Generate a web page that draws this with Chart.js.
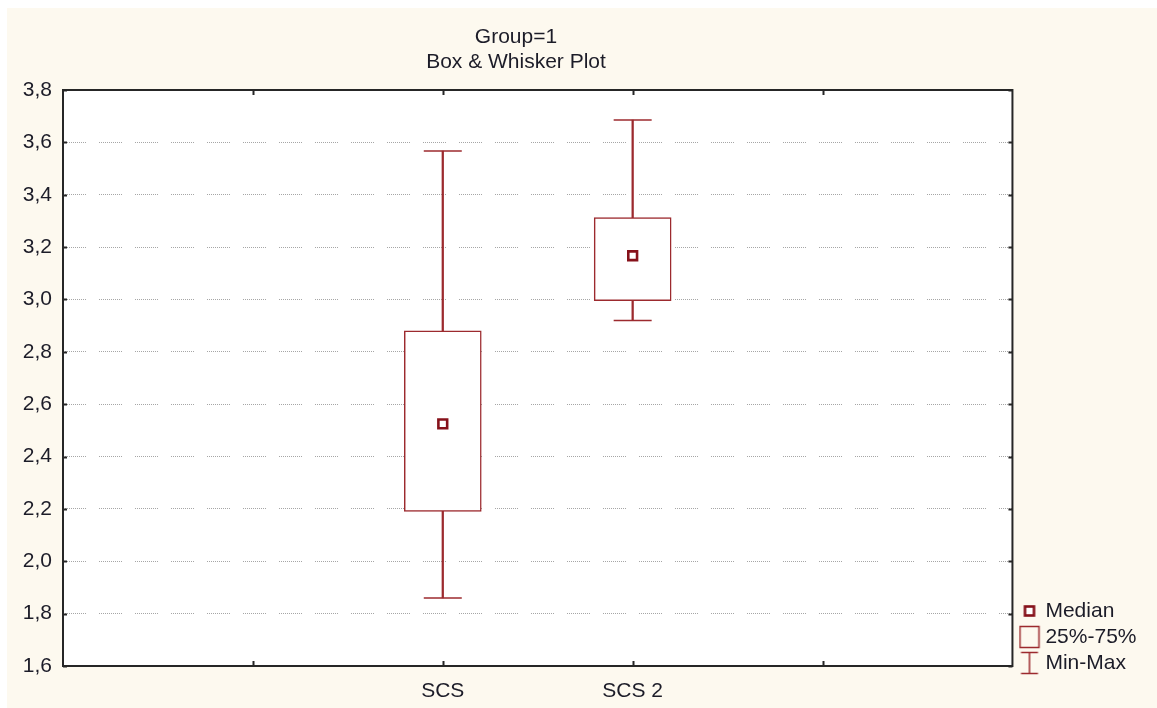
<!DOCTYPE html>
<html>
<head>
<meta charset="utf-8">
<script src="https://cdn.jsdelivr.net/npm/chart.js@4/dist/chart.umd.min.js"></script>
<style>
  html, body { margin: 0; padding: 0; background: #ffffff; }
  #wrap { position: absolute; left: 7px; top: 8px; width: 1150px; height: 700px; background: #fdf9ef; }
</style>
</head>
<body>
<div id="wrap"><canvas id="chart" width="1150" height="700"></canvas></div>
<script>
// valeurs
const categories = ['SCS', 'SCS 2'];
const minValues = [1.86, 2.92];
const q1Values = [2.19, 2.995];
const medianValues = [2.525, 3.167];
const q3Values = [2.88, 3.313];
const maxValues = [3.567, 3.685];
const titleLines = ['Group=1', 'Box & Whisker Plot'];
const legendLabels = ['Median', '25%-75%', 'Min-Max'];

const red = '#9c2a2e';
const darkRed = '#86111a';
const textColor = '#1c1c28';
const font = { family: '"Liberation Sans", Arial, sans-serif', size: 21 };

// les catégories sont posées sur les graduations 2 et 3 d'un axe de 0 à 5
const slot = i => i + 2;

const whiskerData = categories.map((c, i) => ({ x: slot(i), y: [minValues[i], maxValues[i]] }));
const boxData = categories.map((c, i) => ({ x: slot(i), y: [q1Values[i], q3Values[i]] }));
const capData = categories.flatMap((c, i) => [
    { x: slot(i), y: minValues[i] },
    { x: slot(i), y: maxValues[i] }
]);
const medianData = categories.map((c, i) => ({ x: slot(i), y: medianValues[i] }));

// petites icônes pour la légende
function makeIcon(draw) {
    const c = document.createElement('canvas');
    c.width = 24;
    c.height = 26;
    draw(c.getContext('2d'));
    return c;
}
const legendIcons = [
    makeIcon(ctx => {
        ctx.fillStyle = '#ffffff';
        ctx.fillRect(7.5, 8.5, 9, 9);
        ctx.strokeStyle = darkRed;
        ctx.lineWidth = 2.6;
        ctx.strokeRect(7.5, 8.5, 9, 9);
    }),
    makeIcon(ctx => {
        ctx.strokeStyle = red;
        ctx.lineWidth = 1.5;
        ctx.strokeRect(2.5, 2.5, 19, 21);
    }),
    makeIcon(ctx => {
        ctx.strokeStyle = red;
        ctx.lineWidth = 1.5;
        ctx.beginPath();
        ctx.moveTo(3.5, 2.5); ctx.lineTo(20.5, 2.5);
        ctx.moveTo(12, 2.5); ctx.lineTo(12, 23.5);
        ctx.moveTo(3.5, 23.5); ctx.lineTo(20.5, 23.5);
        ctx.stroke();
    })
];

const gridDash = [];
for (let i = 0; i < 11; i++) gridDash.push(1, 1);
gridDash.push(1, 13);

const plotBackground = {
    id: 'plotBackground',
    beforeDraw(chart) {
        const { ctx, chartArea: a } = chart;
        ctx.save();
        ctx.fillStyle = '#ffffff';
        ctx.fillRect(a.left, a.top, a.right - a.left, a.bottom - a.top);
        ctx.restore();
    }
};

// cadre et graduations intérieures
const frame = {
    id: 'frame',
    afterDraw(chart) {
        const { ctx, chartArea: a, scales: { x, y } } = chart;
        ctx.save();
        ctx.strokeStyle = '#262626';
        ctx.lineWidth = 2;
        ctx.strokeRect(a.left, a.top, a.right - a.left, a.bottom - a.top);
        ctx.beginPath();
        x.ticks.forEach(t => {
            if (t.value <= x.min || t.value >= x.max) return;
            const px = Math.round(x.getPixelForValue(t.value)) + 0.5;
            ctx.moveTo(px, a.bottom); ctx.lineTo(px, a.bottom - 5);
            ctx.moveTo(px, a.top); ctx.lineTo(px, a.top + 5);
        });
        y.ticks.forEach(t => {
            const py = Math.round(y.getPixelForValue(t.value)) + 0.5;
            ctx.moveTo(a.left, py); ctx.lineTo(a.left + 4, py);
            ctx.moveTo(a.right, py); ctx.lineTo(a.right - 4, py);
        });
        ctx.stroke();
        ctx.restore();
    }
};

// le titre n'est pas centré sur la toile et la légende descend sous le cadre
const placeBlocks = {
    id: 'placeBlocks',
    afterLayout(chart) {
        const tb = chart.titleBlock;
        const d = 509 - (tb.left + tb.right) / 2;
        tb.left += d;
        tb.right += d;
        chart.legend.top -= 29.5;
        chart.legend.bottom -= 29.5;
    }
};

new Chart(document.getElementById('chart'), {
    type: 'bar',
    data: {
        datasets: [
            {
                label: 'Median',
                type: 'scatter',
                data: medianData,
                pointStyle: 'rect',
                pointRadius: 6.2,
                pointHoverRadius: 6.2,
                pointBorderWidth: 2.6,
                pointBorderColor: darkRed,
                pointBackgroundColor: '#ffffff',
                order: 0
            },
            {
                label: '25%-75%',
                data: boxData,
                backgroundColor: '#ffffff',
                borderColor: red,
                borderWidth: 1.5,
                borderSkipped: false,
                barThickness: 77,
                grouped: false,
                order: 1
            },
            {
                label: 'caps',
                type: 'scatter',
                data: capData,
                pointStyle: 'line',
                pointRadius: 19,
                pointHoverRadius: 19,
                pointBorderWidth: 1.5,
                pointBorderColor: red,
                order: 2
            },
            {
                label: 'Min-Max',
                data: whiskerData,
                backgroundColor: red,
                borderWidth: 0,
                borderSkipped: false,
                barThickness: 1.6,
                grouped: false,
                order: 3
            }
        ]
    },
    options: {
        responsive: false,
        animation: false,
        layout: {
            padding: { left: 0, top: 0, right: 10.5, bottom: 0 }
        },
        plugins: {
            title: {
                display: true,
                text: titleLines,
                color: textColor,
                font: { family: font.family, size: 21, weight: 'normal', lineHeight: 1.18 },
                padding: { top: 17, bottom: 15.44 }
            },
            legend: {
                position: 'right',
                align: 'end',
                onClick: null,
                labels: {
                    usePointStyle: true,
                    boxWidth: 11,
                    padding: 5,
                    color: textColor,
                    font: font,
                    generateLabels: () => legendLabels.map((text, i) => ({
                        text: text,
                        pointStyle: legendIcons[i],
                        fillStyle: '#ffffff',
                        strokeStyle: red,
                        lineWidth: 0,
                        hidden: false,
                        fontColor: textColor
                    }))
                }
            },
            tooltip: { enabled: false }
        },
        scales: {
            x: {
                type: 'linear',
                min: 0,
                max: 5,
                offset: false,
                grid: { display: false, offset: false },
                border: { display: false },
                ticks: {
                    stepSize: 1,
                    autoSkip: false,
                    maxRotation: 0,
                    padding: 4.5,
                    color: textColor,
                    font: font,
                    callback: v => {
                        const i = categories.findIndex((c, k) => slot(k) === v);
                        return i >= 0 ? categories[i] : '';
                    }
                },
                afterFit: s => { s.height = 42; }
            },
            y: {
                min: 1.6,
                max: 3.8,
                grid: {
                    color: '#a6a6a6',
                    lineWidth: 1,
                    drawTicks: false
                },
                border: { display: false, dash: gridDash },
                ticks: {
                    stepSize: 0.2,
                    padding: 11,
                    color: textColor,
                    font: font,
                    callback: v => v.toFixed(1).replace('.', ',')
                },
                afterFit: s => { s.width = 56; }
            },
            gap: {
                type: 'linear',
                position: 'right',
                display: true,
                grid: { display: false },
                border: { display: false },
                ticks: { display: false },
                afterFit: s => { s.width = 6.5; }
            }
        }
    },
    plugins: [plotBackground, frame, placeBlocks]
});
</script>
</body>
</html>
